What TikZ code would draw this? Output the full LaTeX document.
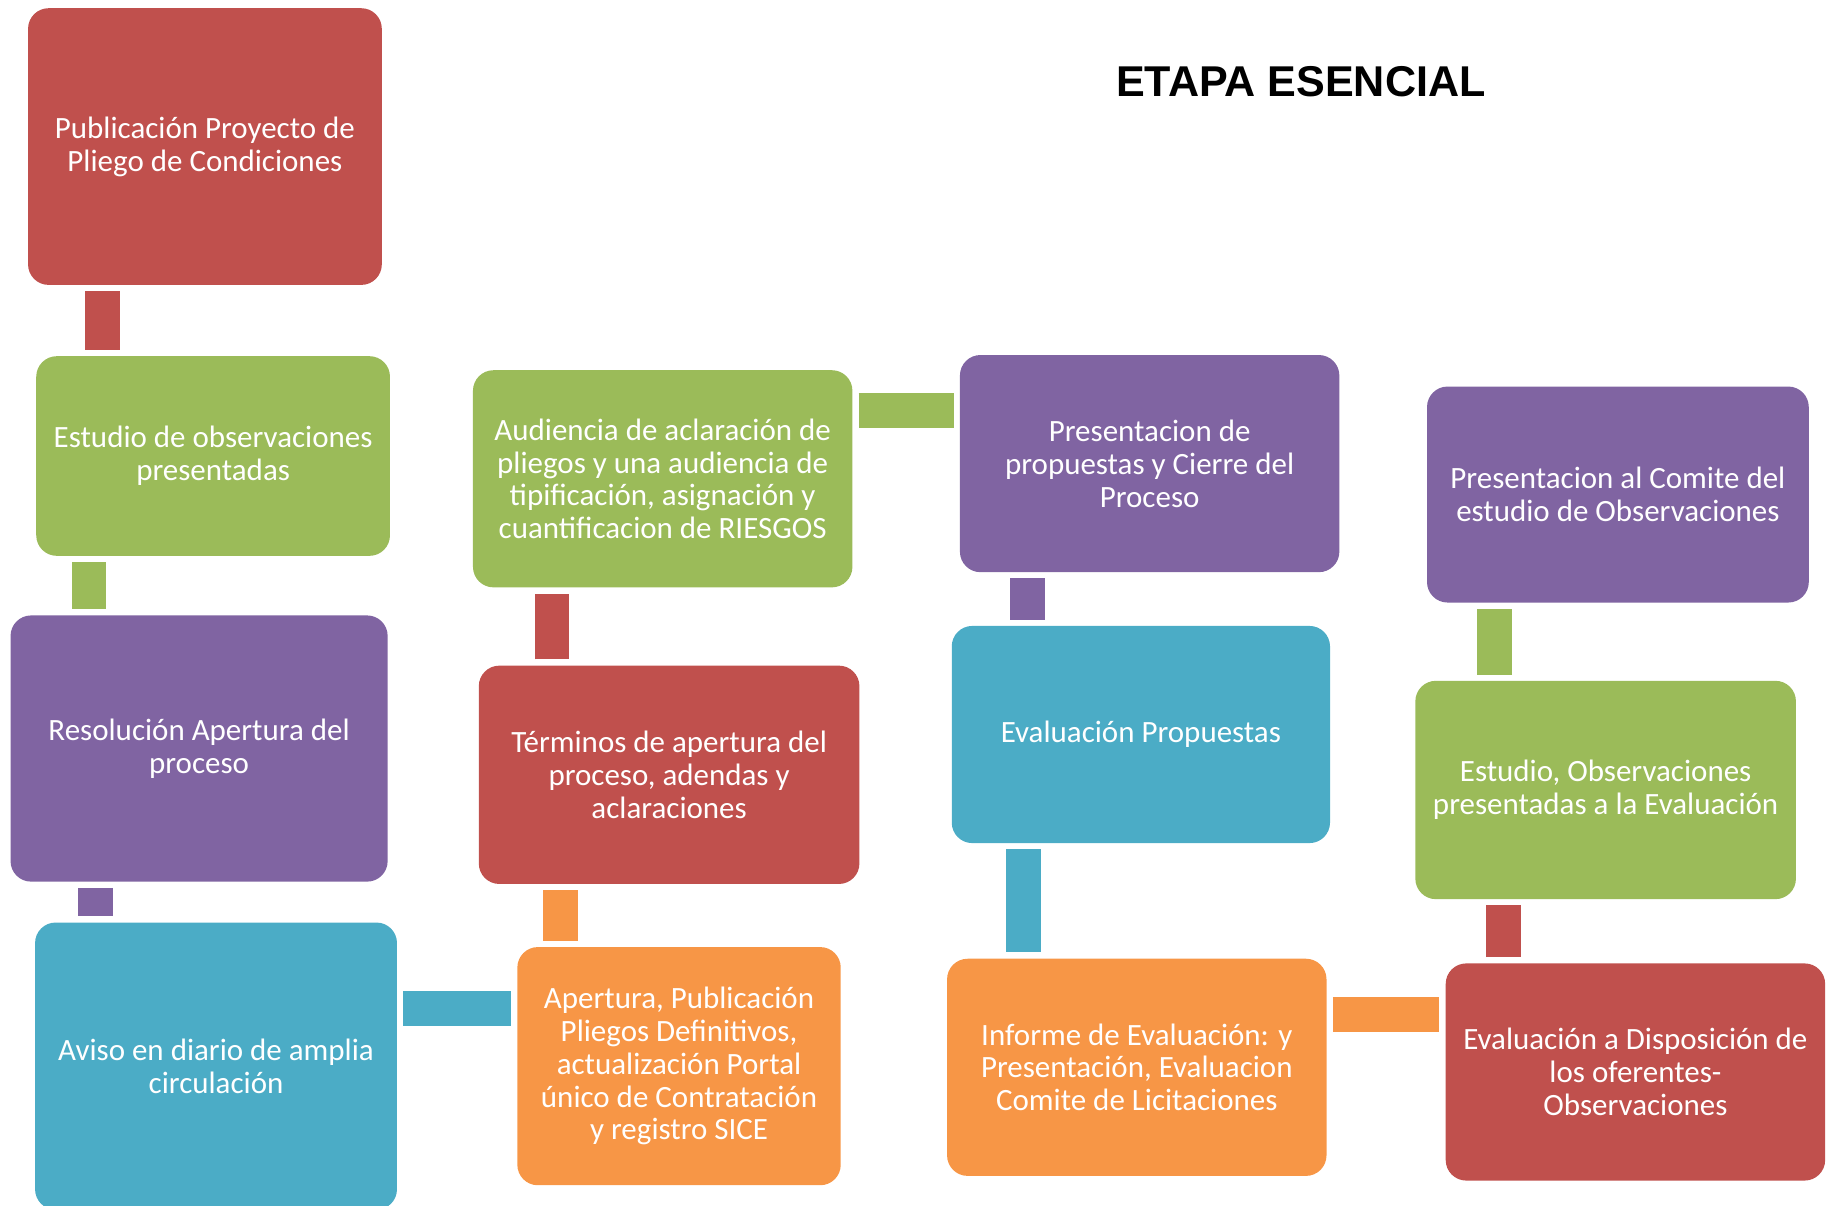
\documentclass[tikz,border=0pt]{standalone}
\usepackage{fontspec}
\setmainfont{Carlito}
\newfontfamily\headfont{Liberation Sans}
\usepackage{xcolor}
\definecolor{boxred}{HTML}{C0504D}
\definecolor{boxgreen}{HTML}{9BBB59}
\definecolor{boxpurple}{HTML}{8064A2}
\definecolor{boxblue}{HTML}{4BACC6}
\definecolor{boxorange}{HTML}{F79646}

\tikzset{
    box/.style = {fill = #1, rectangle, rounded corners = 10pt, text = white, align = center, inner sep = 0pt, font = \fontsize{15.1}{16}\selectfont},
    bar/.style = {draw = #1, line width = 17pt, shorten < = 0.1cm, shorten > = 0.1cm},
}

\begin{document}
\begin{tikzpicture}[x = 0.02cm, y = -0.02cm]
        \useasboundingbox (0, 0) rectangle (1568, 1032);

        % Nodes
        \node [box = boxred, minimum width = 6.06cm, minimum height = 4.74cm] (a) at (175.5, 125.5) {Publicación Proyecto de\\Pliego de Condiciones};
        \node [box = boxgreen, minimum width = 6.06cm, minimum height = 3.42cm] (b) at (182.5, 390.5) {Estudio de observaciones\\presentadas};
        \node [box = boxpurple, minimum width = 6.46cm, minimum height = 4.56cm] (c) at (170.5, 641) {Resolución Apertura del\\proceso};
        \node [box = boxblue, minimum width = 6.2cm, minimum height = 4.92cm] (d) at (185, 913) {Aviso en diario de amplia\\circulación};
        \node [box = boxorange, minimum width = 5.54cm, minimum height = 4.08cm] (e) at (581.5, 913) {Apertura, Publicación\\Pliegos Definitivos,\\actualización Portal\\único de Contratación\\y registro SICE};
        \node [box = boxred, minimum width = 6.52cm, minimum height = 3.74cm] (f) at (573, 663.5) {Términos de apertura del\\proceso, adendas y\\aclaraciones};
        \node [box = boxgreen, minimum width = 6.5cm, minimum height = 3.72cm] (g) at (567.5, 410) {Audiencia de aclaración de\\pliegos y una audiencia de\\tipificación, asignación y\\cuantificacion de RIESGOS};
        \node [box = boxpurple, minimum width = 6.5cm, minimum height = 3.72cm] (h) at (984.5, 397) {Presentacion de\\propuestas y Cierre del\\Proceso};
        \node [box = boxblue, minimum width = 6.48cm, minimum height = 3.72cm] (i) at (977, 629) {Evaluación Propuestas};
        \node [box = boxorange, minimum width = 6.5cm, minimum height = 3.72cm] (j) at (973.5, 914) {Informe de Evaluación: y\\Presentación, Evaluacion\\Comite de Licitaciones};
        \node [box = boxred, minimum width = 6.5cm, minimum height = 3.72cm] (k) at (1400.5, 918) {Evaluación a Disposición de\\los oferentes-\\Observaciones};
        \node [box = boxgreen, minimum width = 6.52cm, minimum height = 3.74cm] (l) at (1375, 676.5) {Estudio, Observaciones\\presentadas a la Evaluación};
        \node [box = boxpurple, minimum width = 6.54cm, minimum height = 3.7cm] (m) at (1385.5, 423.5) {Presentacion al Comite del\\estudio de Observaciones};

        % Title
        \node [font = \headfont\bfseries\fontsize{21}{24}\selectfont] (title) at (1114, 70) {ETAPA ESENCIAL};

        % Draw the links
        \draw [bar = boxred] ([shift = {(64, 0)}]a.south west) -- ([shift = {(64, 0)}]a.south west |- b.north);
        \draw [bar = boxgreen] ([shift = {(45.5, 0)}]b.south west) -- ([shift = {(45.5, 0)}]b.south west |- c.north);
        \draw [bar = boxpurple] ([shift = {(73, 0)}]c.south west) -- ([shift = {(73, 0)}]c.south west |- d.north);
        \draw [bar = boxblue] ([shift = {(0, 74)}]d.north east) -- ([shift = {(0, 74)}]d.north east -| e.west);
        \draw [bar = boxorange] ([shift = {(37, 0)}]e.north west) -- ([shift = {(37, 0)}]e.north west |- f.south);
        \draw [bar = boxred] ([shift = {(63, 0)}]f.north west) -- ([shift = {(63, 0)}]f.north west |- g.south);
        \draw [bar = boxgreen] ([shift = {(0, 35)}]g.north east) -- ([shift = {(0, 35)}]g.north east -| h.west);
        \draw [bar = boxpurple] ([shift = {(58, 0)}]h.south west) -- ([shift = {(58, 0)}]h.south west |- i.north);
        \draw [bar = boxblue] ([shift = {(62, 0)}]i.south west) -- ([shift = {(62, 0)}]i.south west |- j.north);
        \draw [bar = boxorange] ([shift = {(0, 48)}]j.north east) -- ([shift = {(0, 48)}]j.north east -| k.west);
        \draw [bar = boxred] ([shift = {(50, 0)}]k.north west) -- ([shift = {(50, 0)}]k.north west |- l.south);
        \draw [bar = boxgreen] ([shift = {(68, 0)}]l.north west) -- ([shift = {(68, 0)}]l.north west |- m.south);

    \end{tikzpicture}
\end{document}
